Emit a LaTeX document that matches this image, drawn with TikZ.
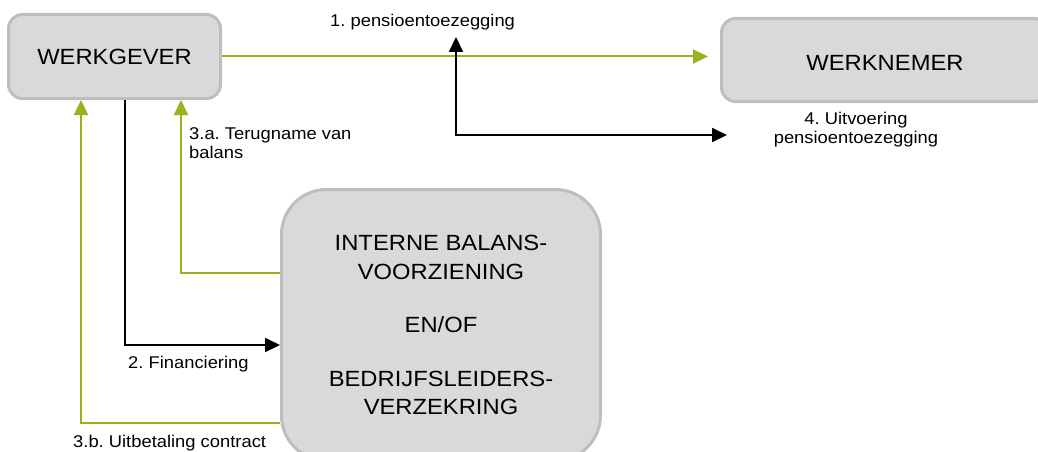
\documentclass[tikz,border=0pt]{standalone}
\usepackage{fontspec}
\setmainfont{Liberation Sans}[FakeStretch=1.08]
\usetikzlibrary{arrows.meta}
\definecolor{pgreen}{RGB}{155,177,30}
\definecolor{boxfill}{RGB}{217,217,217}
\definecolor{boxline}{RGB}{190,190,190}
\tikzset{
  box/.style={draw=boxline, fill=boxfill, line width=3pt, align=center, inner sep=0pt},
  boxtext/.style={font=\fontsize{22}{28.5}\selectfont},
  lbl/.style={font=\fontsize{17}{19}\selectfont, inner sep=0pt},
  tip/.tip={Triangle[length=15pt,width=14pt]},
  garrow/.style={draw=pgreen, line width=2pt, -tip},
  barrow/.style={draw=black, line width=2pt, -tip},
}
\frenchspacing
\begin{document}
\begin{tikzpicture}[x=1pt,y=-1pt]
\useasboundingbox (0,0) rectangle (1038,452);
% boxes
\node[box, boxtext, minimum width=212pt, minimum height=84pt, rounded corners=14pt] (gever) at (114.5,56.5) {WERKGEVER};
\node[box, boxtext, minimum width=327pt, minimum height=83pt, rounded corners=14pt, text height=21pt, text depth=0pt] (nemer) at (885,60) {WERKNEMER};
\node[box, boxtext, minimum width=319pt, minimum height=271pt, rounded corners=45pt] (bal) at (441,325)
  {INTERNE BALANS-\\VOORZIENING\\[25pt]EN/OF\\[25pt]BEDRIJFSLEIDERS-\\VERZEKRING};
% labels
\node[lbl, anchor=base west] (lab1) at (330,27) {1. pensioentoezegging};
\node[lbl, anchor=base, align=center] (lab4) at (856,143) {4. Uitvoering\\pensioentoezegging};
\node[lbl, anchor=base west, align=left] (lab3a) at (189,158) {3.a. Terugname van\\balans};
\node[lbl, anchor=base west] (lab2) at (128,368) {2. Financiering};
\node[lbl, anchor=base west] (lab3b) at (73,447) {3.b. Uitbetaling contract};
% connector coordinates
\coordinate (c14) at (456,135);
\coordinate (t1) at (456,37);
\coordinate (t4) at (727,135);
\coordinate (fin) at (125,345);
\coordinate (ca) at (181,273);
\coordinate (cb) at (81,423);
% connectors
\draw[garrow, shorten >=12pt] (gever.east) -- (gever.east -| nemer.west);
\draw[barrow, tip-tip] (t1) -- (c14) -- (t4);
\draw[barrow] (gever.south -| fin) -- (fin) -- (bal.west |- fin);
\draw[garrow] (bal.west |- ca) -- (ca) -- (ca |- gever.south);
\draw[garrow] (bal.west |- cb) -- (cb) -- (cb |- gever.south);
\end{tikzpicture}
\end{document}
